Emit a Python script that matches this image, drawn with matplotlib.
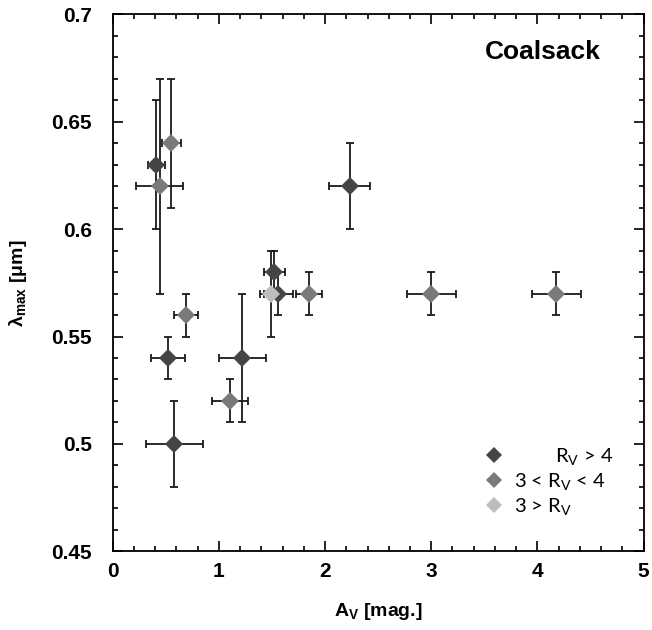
import matplotlib
matplotlib.use("Agg")
import matplotlib.pyplot as plt
from matplotlib.ticker import MultipleLocator
from matplotlib.lines import Line2D

plt.rcParams['font.family'] = ['Liberation Sans', 'DejaVu Sans']
plt.rcParams['mathtext.fontset'] = 'custom'
plt.rcParams['mathtext.rm'] = 'Liberation Sans'
plt.rcParams['mathtext.bf'] = 'Liberation Sans:bold'
plt.rcParams['mathtext.default'] = 'regular'

# Data: R_V > 4 (dark)
dark_av = [0.41, 0.52, 0.58, 1.22, 1.52, 1.56, 2.23]
dark_lam = [0.63, 0.54, 0.50, 0.54, 0.58, 0.57, 0.62]
dark_xerr = [0.08, 0.16, 0.27, 0.22, 0.10, 0.14, 0.19]
dark_yerr = [0.03, 0.01, 0.02, 0.03, 0.01, 0.01, 0.02]

# 3 < R_V < 4 (medium)
mid_av = [0.55, 0.44, 0.69, 1.10, 1.85, 3.00, 4.18]
mid_lam = [0.64, 0.62, 0.56, 0.52, 0.57, 0.57, 0.57]
mid_xerr = [0.09, 0.225, 0.11, 0.17, 0.12, 0.23, 0.23]
mid_yerr = [0.03, 0.05, 0.01, 0.01, 0.01, 0.01, 0.01]

# 3 > R_V (light)
light_av = [1.49]
light_lam = [0.57]
light_xerr = [0.10]
light_yerr = [0.02]

series = [
    (dark_av, dark_lam, dark_xerr, dark_yerr, '#454545'),
    (mid_av, mid_lam, mid_xerr, mid_yerr, '#7a7a7a'),
    (light_av, light_lam, light_xerr, light_yerr, '#bdbdbd'),
]

fig = plt.figure(figsize=(6.52, 6.30), dpi=100)
ax = fig.add_axes([0.173, 0.125, 0.814, 0.852])

for x, y, xe, ye, c in series:
    ax.errorbar(x, y, xerr=xe, yerr=ye, fmt='none', ecolor='#1a1a1a',
                elinewidth=1.3, capsize=3.2, capthick=1.3, zorder=2)
for x, y, xe, ye, c in series:
    ax.plot(x, y, 'D', color=c, markersize=9, markeredgewidth=0, zorder=3)

ax.set_xlim(0, 5)
ax.set_ylim(0.45, 0.7)
ax.xaxis.set_minor_locator(MultipleLocator(0.2))
ax.yaxis.set_minor_locator(MultipleLocator(0.01))
ax.set_xticks([0, 1, 2, 3, 4, 5])
ax.set_xticklabels(['0', '1', '2', '3', '4', '5'])
ax.set_yticks([0.45, 0.5, 0.55, 0.6, 0.65, 0.7])
ax.set_yticklabels(['0.45', '0.5', '0.55', '0.6', '0.65', '0.7'])
ax.tick_params(which='both', direction='in', top=True, right=True, width=1.2)
ax.tick_params(which='major', length=7, labelsize=15)
ax.tick_params(axis='y', which='major', pad=15)
ax.tick_params(axis='x', which='major', pad=8)
ax.tick_params(which='minor', length=3.5)
for lab in ax.get_xticklabels() + ax.get_yticklabels():
    lab.set_fontweight('bold')
for s in ax.spines.values():
    s.set_linewidth(1.3)

ax.set_xlabel('A$_{V}$ [mag.]', fontsize=14, fontweight='bold', labelpad=14)
ax.set_ylabel('λ$_{max}$ [μm]', fontsize=14, fontweight='bold', labelpad=16)

ax.text(0.92, 0.931, 'Coalsack', transform=ax.transAxes, ha='right', va='center',
        fontsize=19, fontweight='bold')

handles = [Line2D([], [], linestyle='none', marker='D', color=c, markersize=8,
                  markeredgewidth=0) for c in ['#454545', '#7a7a7a', '#bdbdbd']]
labels = ['        R$_V$ > 4', '3 < R$_V$ < 4', '3 > R$_V$']
leg = ax.legend(handles, labels, loc='upper left', bbox_to_anchor=(0.665, 0.23),
                frameon=False, handlelength=1.0, handletextpad=0.5,
                labelspacing=0.2, prop={'family': ['Lato', 'DejaVu Sans'], 'size': 14.5})

fig.savefig('out.png', dpi=100)
